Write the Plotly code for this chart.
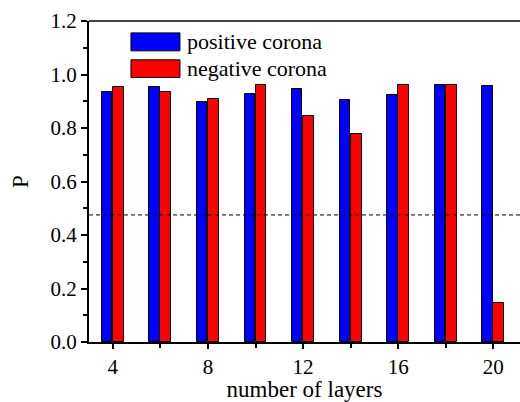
import plotly.graph_objects as go

# number of layers and the corresponding P values
layers = [4, 6, 8, 10, 12, 14, 16, 18, 20]
positive_corona = [0.933, 0.953, 0.899, 0.926, 0.946, 0.903, 0.924, 0.959, 0.957]
negative_corona = [0.954, 0.936, 0.907, 0.961, 0.844, 0.778, 0.962, 0.959, 0.146]
series_names = ["positive corona", "negative corona"]
series_colors = ["#0000FF", "#FF0000"]
threshold = 0.475

FONT = "Times New Roman, Liberation Serif, DejaVu Serif, serif"

fig = go.Figure()
fig.add_trace(go.Bar(
    x=layers, y=positive_corona, name=series_names[0],
    width=0.43, offset=-0.46,
    marker=dict(color=series_colors[0], line=dict(color="black", width=1)),
    showlegend=False,
))
fig.add_trace(go.Bar(
    x=layers, y=negative_corona, name=series_names[1],
    width=0.46, offset=0.0,
    marker=dict(color=series_colors[1], line=dict(color="black", width=1)),
    showlegend=False,
))

# dashed reference level
fig.add_shape(type="line", xref="paper", x0=0, x1=1, yref="y", y0=threshold, y1=threshold,
              line=dict(color="black", width=1, dash="4px,3px"))
# top frame line
fig.add_shape(type="line", xref="paper", x0=0, x1=1, yref="paper", y0=1, y1=1,
              line=dict(color="#444444", width=2))

# legend drawn as swatches with labels
legend_rows = [(0.963, 0.907), (0.879, 0.824)]
for (ytop, ybot), name, color in zip(legend_rows, series_names, series_colors):
    fig.add_shape(type="rect", xref="paper", yref="paper",
                  x0=0.0974, x1=0.211, y0=ybot, y1=ytop,
                  fillcolor=color, line=dict(color="black", width=1))
    fig.add_annotation(xref="paper", yref="paper", x=0.222, y=(ytop + ybot) / 2,
                       text=name, showarrow=False, xanchor="left", yanchor="middle",
                       font=dict(family=FONT, size=22, color="black"))

fig.update_layout(
    width=520, height=402,
    margin=dict(l=89, r=0, t=21, b=58),
    paper_bgcolor="white", plot_bgcolor="white",
    font=dict(family=FONT, size=20, color="black"),
    bargap=0,
)
fig.update_xaxes(
    range=[3, 21.12], tickvals=[4, 8, 12, 16, 20],
    ticks="outside", ticklen=5, tickwidth=1.5, tickcolor="black",
    minor=dict(tickvals=[6, 10, 14, 18], ticks="outside", ticklen=4, tickwidth=1.5, tickcolor="black"),
    showline=True, linecolor="black", linewidth=2, showgrid=False, zeroline=False,
    title=dict(text="number of layers", font=dict(family=FONT, size=23), standoff=7),
    tickfont=dict(family=FONT, size=21),
)
fig.update_yaxes(
    range=[0, 1.2], tickvals=[0, 0.2, 0.4, 0.6, 0.8, 1.0, 1.2], tickformat=".1f",
    ticks="outside", ticklen=6, tickwidth=1.5, tickcolor="black",
    minor=dict(dtick=0.1, ticks="outside", ticklen=4, tickwidth=1.5, tickcolor="black"),
    showline=True, linecolor="black", linewidth=2, showgrid=False, zeroline=False,
    title=dict(text="P", font=dict(family=FONT, size=23), standoff=15),
    tickfont=dict(family=FONT, size=21),
)

fig.write_html("out.html")
